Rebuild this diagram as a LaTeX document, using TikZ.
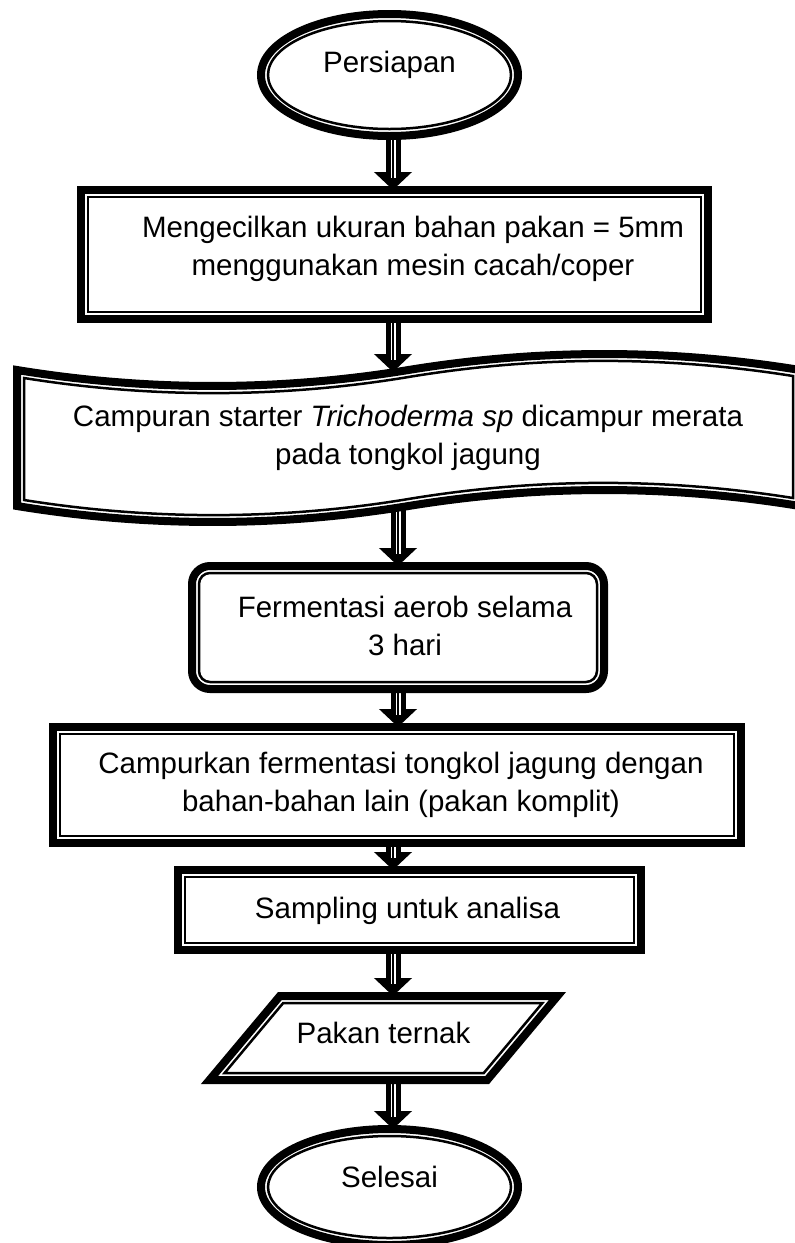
\documentclass[tikz,border=0pt]{standalone}
\usepackage{fontspec}
\setmainfont{Liberation Sans}
\usetikzlibrary{shapes.geometric,arrows.meta}
\pgfdeclarelayer{background}
\pgfsetlayers{background,main}
\begin{document}
\begin{tikzpicture}[x=1pt,y=-1pt,
  thk/.style={draw, line width=8pt, fill=white, outer sep=0pt, inner sep=0pt},
  thn/.style={draw, line width=2.5pt, outer sep=0pt, inner sep=0pt},
  thkp/.style={draw, line width=8pt, fill=white},
  thnp/.style={draw, line width=2.5pt},
  lbl/.style={font=\fontsize{29.5}{38}\selectfont, align=center, anchor=base, inner sep=0pt},
  arr/.style={line width=15pt, -{Triangle[width=37pt,length=18pt]},
    postaction={draw=white, line width=5pt, -, shorten >=12pt},
    postaction={draw=black, line width=1.5pt, -, shorten >=12pt}}
]
\useasboundingbox (0,0) rectangle (795,1243);

% Start
\node[thk, ellipse, minimum width=257pt, minimum height=122pt] (e1) at (389.5,75) {};
\node[thn, ellipse, minimum width=243pt, minimum height=108pt] (e1i) at (e1) {};
\node[lbl] (t1) at (389.5,72) {Persiapan};

% Box 1
\node[thk, minimum width=627pt, minimum height=129pt] (b1) at (394.5,254.5) {};
\node[thn, minimum width=613pt, minimum height=115pt] (b1i) at (b1) {};
\node[lbl] (t2) at (413,275) {Mengecilkan ukuran bahan pakan = 5mm\\menggunakan mesin cacah/coper};

% Banner (tape)
\draw[thkp] (17,370) .. controls (147.5,391.3) and (278,391.3) .. (408.5,370)
  .. controls (539,348.7) and (669.5,348.7) .. (800,370) -- (800,506)
  .. controls (669.5,484.7) and (539,484.7) .. (408.5,506)
  .. controls (278,527.3) and (147.5,527.3) .. (17,506) -- cycle;
\draw[thnp] (24,378) .. controls (151,398.3) and (280,398.3) .. (408.5,377)
  .. controls (537,355.7) and (665,355.7) .. (793,376) -- (793,498)
  .. controls (665,477.7) and (537,477.7) .. (408.5,499)
  .. controls (280,520.3) and (151,520.3) .. (24,500) -- cycle;
\coordinate (bntop) at (393,372);
\coordinate (bnbot) at (398,507);
\node[lbl] (t3) at (408,464) {Campuran starter \textit{Trichoderma sp} dicampur merata\\pada tongkol jagung};

% Rounded box
\node[thk, rounded corners=18pt, minimum width=412pt, minimum height=123pt] (rb) at (398,627.5) {};
\node[thn, rounded corners=11pt, minimum width=398pt, minimum height=109pt] (rbi) at (rb) {};
\node[lbl] (t4) at (405,655) {Fermentasi aerob selama\\3 hari};

% Campurkan box
\node[thk, minimum width=688pt, minimum height=116pt] (c5) at (397,785) {};
\node[thn, minimum width=674pt, minimum height=102pt] (c5i) at (c5) {};
\node[lbl] (t5) at (401,811) {Campurkan fermentasi tongkol jagung dengan\\bahan-bahan lain (pakan komplit)};

% Sampling box
\node[thk, minimum width=463pt, minimum height=80pt] (s6) at (409.5,910) {};
\node[thn, minimum width=449pt, minimum height=66pt] (s6i) at (s6) {};
\node[lbl] (t6) at (407.5,918) {Sampling untuk analisa};

% Parallelogram
\draw[thkp] (209.5,1080) -- (279.9,996) -- (557.5,996) -- (487.2,1080) -- cycle;
\draw[thnp] (224.6,1073) -- (283.2,1003) -- (542.4,1003) -- (483.8,1073) -- cycle;
\node[outer sep=0pt, inner sep=0pt, minimum width=348pt, minimum height=84pt] (pk) at (383.5,1038) {};
\node[lbl] (t7) at (383.5,1043) {Pakan ternak};

% End
\node[thk, ellipse, minimum width=257pt, minimum height=116pt] (e2) at (389.5,1187) {};
\node[thn, ellipse, minimum width=243pt, minimum height=102pt] (e2i) at (e2) {};
\node[lbl] (t8) at (389.5,1187.7) {Selesai};

\coordinate (ax) at (393,0);
\begin{pgfonlayer}{background}
\fill[white] (0,0) rectangle (795,1243);
\draw[arr] (ax |- e1.south) -- (ax |- b1.north);
\draw[arr] (ax |- b1.south) -- (bntop);
\draw[arr] (bnbot) -- (rb.north);
\draw[arr] (rb.south) -- (rb.south |- c5.north);
\draw[arr] (ax |- c5.south) -- (ax |- s6.north);
\draw[arr] (ax |- s6.south) -- (ax |- pk.north);
\draw[arr] (ax |- pk.south) -- (ax |- e2.north);
\end{pgfonlayer}
\end{tikzpicture}
\end{document}
